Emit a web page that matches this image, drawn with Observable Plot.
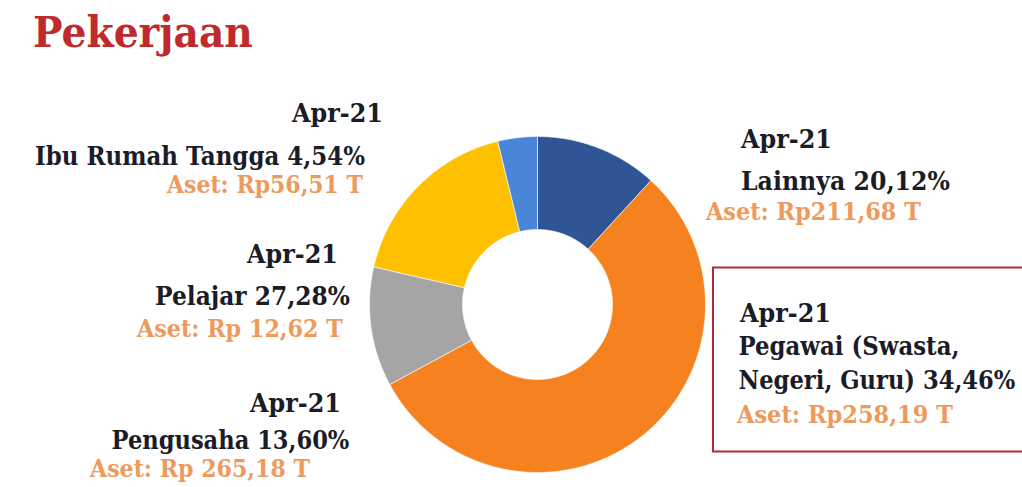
<!DOCTYPE html>
<html><head><meta charset="utf-8">
<script src="https://cdn.jsdelivr.net/npm/d3@7"></script>
<script src="https://cdn.jsdelivr.net/npm/@observablehq/plot@0.6"></script>
<style>
html,body{margin:0;padding:0;background:#fff;}
#chart{position:relative;width:1022px;height:487px;overflow:hidden;}
</style></head><body><div id="chart"></div>
<script>
// ---- data ----
const title = "Pekerjaan";
const categories = ["Lainnya", "Pegawai (Swasta, Negeri, Guru)", "Pelajar", "Pengusaha", "Ibu Rumah Tangga"];
const sliceShares = [11.8, 55.3, 11.5, 17.6, 3.8];   // slice sizes as drawn (%)
const sliceColors = ["#2F5597", "#F5821F", "#A5A5A5", "#FFC000", "#4A86D8"];
const periods = ["Apr-21", "Apr-21", "Apr-21", "Apr-21", "Apr-21"];
const labelNames = ["Lainnya", "Pegawai (Swasta,\nNegeri, Guru)", "Pelajar", "Pengusaha", "Ibu Rumah Tangga"];
const labelPercents = ["20,12%", "34,46%", "27,28%", "13,60%", "4,54%"];
const labelAssets = ["Rp211,68 T", "Rp258,19 T", "Rp 12,62 T", "Rp 265,18 T", "Rp56,51 T"];

// ---- layout (pixel positions of each label line: x, baseline, width) ----
const labelLayout = [
  [[741, 148, 91], [741, 190, 209], [706, 220, 215]],
  [[740, 321.5, 91], [738.5, 355, 221], [738.5, 388.5, 277], [737, 423, 216]],
  [[247, 263, 91], [155, 305, 195], [137, 336.5, 206]],
  [[250, 411.5, 91], [111.5, 448.5, 238], [90, 476.5, 220]],
  [[292, 121.5, 91], [35, 165, 330], [167, 193, 196]]
];
const innerRatio = 75 / 168;

// ---- build donut polygons from the shares ----
const total = d3.sum(sliceShares);
let acc = 0;
const pts = [];
sliceShares.forEach((v, i) => {
  const a0 = acc / total * 2 * Math.PI, a1 = (acc + v) / total * 2 * Math.PI;
  acc += v;
  const cat = categories[i];
  const n = Math.max(2, Math.ceil((a1 - a0) / (Math.PI / 360)));
  for (let k = 0; k <= n; k++) { const a = a0 + (a1 - a0) * k / n; pts.push({cat, x: Math.sin(a), y: Math.cos(a)}); }
  for (let k = n; k >= 0; k--) { const a = a0 + (a1 - a0) * k / n; pts.push({cat, x: innerRatio * Math.sin(a), y: innerRatio * Math.cos(a)}); }
  pts.push({cat, x: Math.sin(a0), y: Math.cos(a0)});
});

const chart = Plot.plot({
  width: 1022, height: 487, margin: 0,
  style: {background: "#fff", overflow: "visible"},
  x: {domain: [-1, 1], range: [369, 705], axis: null},
  y: {domain: [-1, 1], range: [472, 136], axis: null},
  color: {domain: categories, range: sliceColors},
  marks: [
    Plot.line(pts, {x: "x", y: "y", z: "cat", fill: "cat", stroke: "#fff", strokeWidth: 1, strokeOpacity: 0.6})
  ]
});
document.getElementById("chart").appendChild(chart);

// ---- annotations ----
const svg = d3.select(chart);
const font = "'DejaVu Serif', serif";
svg.append("rect").attr("x", 713).attr("y", 267.5).attr("width", 330).attr("height", 184)
  .attr("fill", "none").attr("stroke", "#B3293B").attr("stroke-width", 2);

function addText(s, x, y, w, size, color) {
  const t = svg.append("text").attr("x", 0).attr("y", 0).attr("font-family", font).attr("font-weight", "bold")
    .attr("text-anchor", "start")
    .attr("font-size", size).attr("fill", color)
    .text(s);
  const len = t.node().getComputedTextLength() || w;
  t.attr("transform", `translate(${x},${y}) scale(${w / len},1)`);
}
addText(title, 33, 46.5, 220, 43, "#BF2A2C");

categories.forEach((c, i) => {
  const L = labelLayout[i];
  const nameLines = (labelNames[i] + " " + labelPercents[i]).split("\n");
  const lines = [{s: periods[i], c: "#1A1C28", size: 25.5}]
    .concat(nameLines.map(s => ({s, c: "#1A1C28", size: 25.5})))
    .concat([{s: "Aset: " + labelAssets[i], c: "#EE9A5C", size: 24}]);
  lines.forEach((ln, j) => addText(ln.s, L[j][0], L[j][1], L[j][2], ln.size, ln.c));
});
</script></body></html>
